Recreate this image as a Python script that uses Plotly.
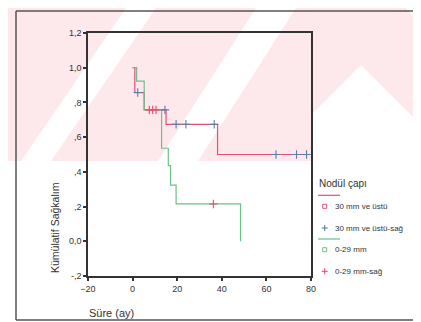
import plotly.graph_objects as go

# ---- data (Kaplan-Meier, SPSS style) ----
x_ticks = [-20, 0, 20, 40, 60, 80]
y_ticks = [-0.2, 0.0, 0.2, 0.4, 0.6, 0.8, 1.0, 1.2]
y_ticktext = ["-,2", "0,0", ",2", ",4", ",6", ",8", "1,0", "1,2"]

# 30 mm ve üstü (survival steps)
big_t = [0, 1.0, 5.2, 15.0, 38.1, 78.0]
big_s = [1.0, 0.857, 0.757, 0.674, 0.50, 0.50]
# 30 mm ve üstü - censored
big_cens_t = [2.3, 14.5, 19.5, 23.9, 36.6, 64.3, 73.5, 78.0]
big_cens_s = [0.857, 0.757, 0.674, 0.674, 0.674, 0.50, 0.50, 0.50]

# 0-29 mm (survival steps)
small_t = [0, 1.8, 5.2, 13.0, 16.0, 17.0, 19.5, 48.4]
small_s = [1.0, 0.923, 0.757, 0.536, 0.436, 0.323, 0.215, 0.0]
# 0-29 mm - censored
small_cens_t = [7.5, 9.0, 10.5, 36.2]
small_cens_s = [0.757, 0.757, 0.757, 0.215]

legend_title = "Nodül çapı"
legend_labels = ["30 mm ve üstü", "30 mm ve üstü-sağ", "0-29 mm", "0-29 mm-sağ"]

RED = "#e2507a"
GREEN = "#6cc08a"
BLUE = "#5b7ea6"
REDX = "#ef4a6c"
PINK_BG = "#fde8ec"
FONT = "Liberation Sans"

W, H = 421, 322
L, R, T, B = 80, 118, 25, 54
PW, PH = W - L - R, H - T - B


def px(x):
    return (x - L) / PW


def py(y):
    return (H - B - y) / PH


fig = go.Figure()
fig.add_trace(go.Scatter(x=big_t, y=big_s, mode="lines", line=dict(color=RED, width=1.2, shape="hv"),
                         name=legend_labels[0], showlegend=False))
fig.add_trace(go.Scatter(x=small_t, y=small_s, mode="lines", line=dict(color=GREEN, width=1.2, shape="hv"),
                         name=legend_labels[2], showlegend=False))
fig.add_trace(go.Scatter(x=big_cens_t, y=big_cens_s, mode="markers",
                         marker=dict(symbol="cross-thin", size=6, line=dict(color=BLUE, width=1.1)),
                         name=legend_labels[1], showlegend=False))
fig.add_trace(go.Scatter(x=small_cens_t, y=small_cens_s, mode="markers",
                         marker=dict(symbol="cross-thin", size=6, line=dict(color=REDX, width=1.1)),
                         name=legend_labels[3], showlegend=False))

shapes = []


def poly(points, color):
    d = "M " + " L ".join(f"{px(a):.5f},{py(b):.5f}" for a, b in points) + " Z"
    shapes.append(dict(type="path", xref="paper", yref="paper", path=d,
                       fillcolor=color, line=dict(width=0), layer="below"))


# watermark (pink band with white diagonal stripes)
poly([(0, 0), (W, 0), (W, 153), (0, 153)], PINK_BG)
poly([(13, 153), (43, 153), (148, 0), (118, 0)], "white")
poly([(150, 153), (190, 153), (288, 0), (248, 0)], "white")
poly([(303, 107), (353, 57), (W, 125), (W, 153), (303, 153)], "white")
poly([(398, 0), (W, 0), (W, 27)], "white")


def line(x0, y0, x1, y1, color, width=1.0, layer="above"):
    shapes.append(dict(type="line", xref="paper", yref="paper", x0=px(x0), y0=py(y0), x1=px(x1), y1=py(y1),
                       line=dict(color=color, width=width), layer=layer))


# outer frame
line(8, 3, 8, 312, "#555555", 1.5)
line(8, 3, W, 3, "#555555", 1.5)
line(8, 312, W, 312, "#555555", 1.5)
line(418, 47, 418, 303, "#d6ecf3", 1.5)

# legend glyphs
lx0, lx1, mx = 310, 332, 316.7
line(lx0, 187.3, lx1, 187.3, RED, 1.2)
line(lx0, 231, lx1, 231, GREEN, 1.2)
for yy, col in [(198.3, RED), (241.7, GREEN)]:
    shapes.append(dict(type="rect", xref="paper", yref="paper", x0=px(mx - 2), x1=px(mx + 2),
                       y0=py(yy + 2), y1=py(yy - 2), line=dict(color=col, width=1), fillcolor="rgba(0,0,0,0)"))
for yy, col in [(220, BLUE), (263.3, REDX)]:
    line(mx - 3, yy, mx + 3, yy, col, 1.1)
    line(mx, yy - 3, mx, yy + 3, col, 1.1)

annotations = []


def text(s, x, y, size, xanchor="left", angle=0):
    annotations.append(dict(text=s, x=px(x), y=py(y), xref="paper", yref="paper", showarrow=False,
                            xanchor=xanchor, yanchor="middle", textangle=angle,
                            font=dict(family=FONT, size=size, color="#333333")))


text(legend_title, 309, 175, 10)
for lab, yy in zip(legend_labels, [198.3, 220, 241.7, 263.3]):
    text(lab, 325, yy, 8)
text("Kümülatif Sağkalım", 47, 220, 10.5, xanchor="center", angle=-90)
text("Süre (ay)", 103, 305, 11, xanchor="center")

axis_common = dict(showline=True, mirror=True, linecolor="#333333", linewidth=1.5,
                   ticks="outside", ticklen=3, tickwidth=2, tickcolor="#333333",
                   showgrid=False, zeroline=False,
                   tickfont=dict(family=FONT, size=9, color="#333333"))

fig.update_layout(
    width=W, height=H,
    margin=dict(l=L, r=R, t=T, b=B, pad=0),
    paper_bgcolor="white", plot_bgcolor="rgba(0,0,0,0)",
    showlegend=False,
    shapes=shapes, annotations=annotations,
    xaxis=dict(range=[-20, 80], tickvals=x_ticks, **axis_common),
    yaxis=dict(range=[-0.2, 1.2], tickvals=y_ticks, ticktext=y_ticktext, **axis_common),
)

fig.write_html("out.html")
